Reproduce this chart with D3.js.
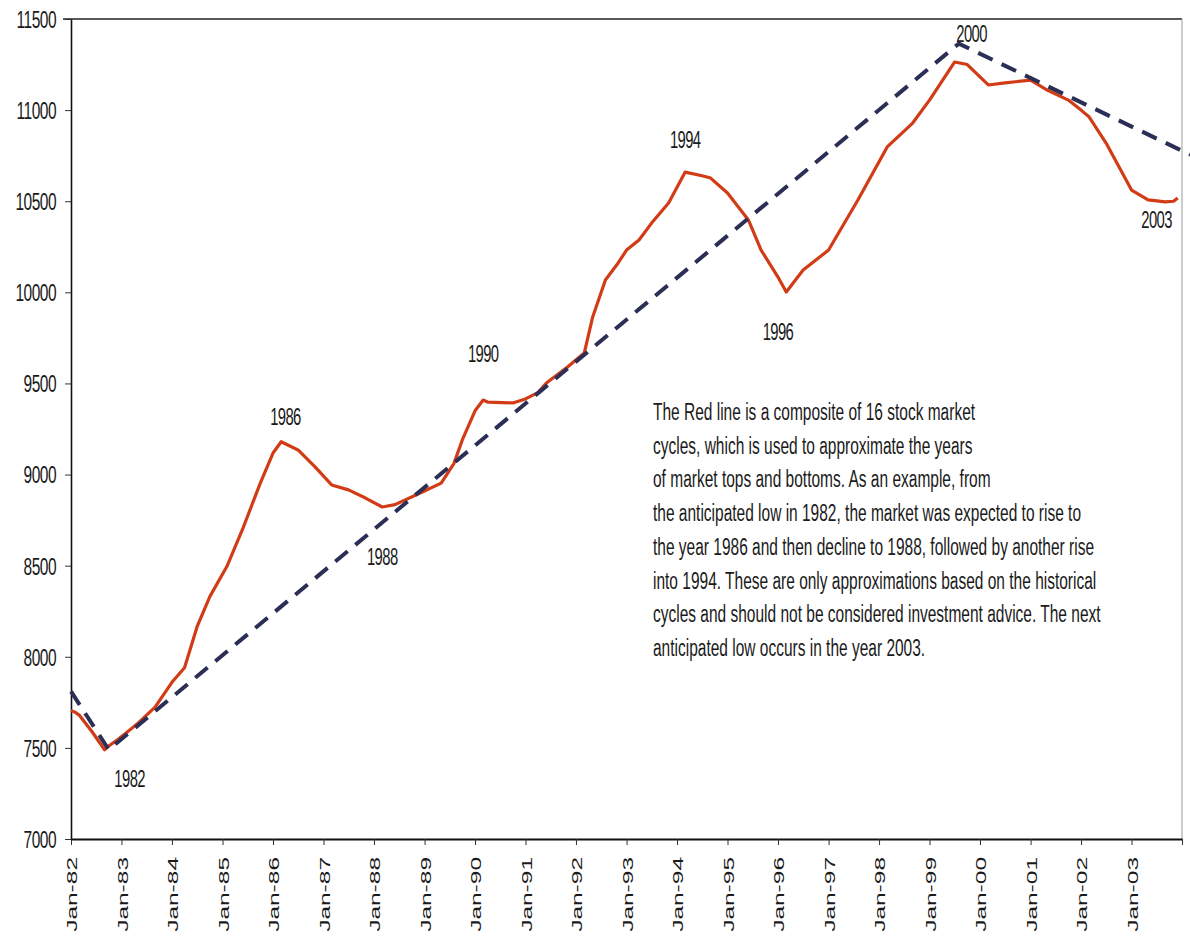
<!DOCTYPE html>
<html>
<head>
<meta charset="utf-8">
<script src="https://cdn.jsdelivr.net/npm/d3@7/dist/d3.min.js"></script>
<style>
  body { margin: 0; background: #fff; }
  svg text { font-family: "Liberation Sans", Arial, sans-serif; fill: #1a1a1a; }
</style>
</head>
<body>
<svg id="chart" width="1190" height="936"></svg>
<script>
// composite cycle line (red)
var redMonths = ["1982-01","1982-02","1982-03","1982-06","1982-09","1982-10","1982-12","1983-02","1983-05","1983-09",
  "1984-01","1984-04","1984-07","1984-10","1985-02","1985-06","1985-10","1986-01","1986-03","1986-07",
  "1986-11","1987-03","1987-07","1987-11","1988-03","1988-06","1988-12","1989-05","1989-08","1989-10",
  "1990-01","1990-03","1990-04","1990-10","1991-01","1991-04","1991-06","1991-11","1992-03","1992-05",
  "1992-08","1992-11","1993-01","1993-04","1993-07","1993-11","1994-03","1994-07","1994-09","1995-01",
  "1995-06","1995-09","1996-01","1996-03","1996-07","1997-01","1997-08","1998-03","1998-09","1999-01",
  "1999-07","1999-10","2000-03","2000-07","2001-01","2001-05","2001-10","2002-01","2002-03","2002-07",
  "2003-01","2003-05","2003-09","2003-11","2003-12"];
var redValues = [7705,7695,7680,7590,7490,7510,7543,7580,7636,7724,
  7860,7940,8165,8330,8495,8712,8953,9118,9180,9135,
  9042,8943,8916,8871,8822,8835,8899,8953,9060,9190,
  9350,9409,9398,9393,9415,9450,9502,9590,9667,9865,
  10068,10161,10232,10287,10380,10490,10660,10640,10627,10545,
  10397,10232,10084,10002,10122,10232,10507,10798,10929,11055,
  11264,11250,11138,11149,11165,11110,11055,11000,10962,10819,
  10561,10507,10496,10500,10518];

// dashed trend line
var trendMonths = ["1982-01","1982-10","1999-08","2004-03"];
var trendValues = [7810,7490,11365,10755];

// year labels on the curve
var yearLabels = ["1982","1986","1988","1990","1994","1996","2000","2003"];
var yearLabelMonths = ["1983-03","1986-04","1988-03","1990-03","1994-03","1996-01","1999-11","2003-07"];
var yearLabelValues = [7335,9321,8553,9667,10841,9788,11423,10402];

var yTicks = [7000,7500,8000,8500,9000,9500,10000,10500,11000,11500];

var note = [
  "The Red line is a composite of 16 stock market",
  "cycles, which is used to approximate the years",
  "of market tops and bottoms. As an example, from",
  "the anticipated low in 1982, the market was expected to rise to",
  "the year 1986 and then decline to 1988, followed by another rise",
  "into 1994. These are only approximations based on the historical",
  "cycles and should not be considered investment advice. The next",
  "anticipated low occurs in the year 2003."
];

var parse = d3.timeParse("%Y-%m");

var svg = d3.select("#chart"),
    margin = {top: 19, right: 8, bottom: 97, left: 71},
    width = +svg.attr("width") - margin.left - margin.right,
    height = +svg.attr("height") - margin.top - margin.bottom,
    g = svg.append("g").attr("transform", "translate(" + margin.left + "," + margin.top + ")");

var x = d3.scaleTime()
    .domain([parse("1982-01"), parse("2004-01")])
    .range([0, width]);

var y = d3.scaleLinear()
    .domain([7000, 11500])
    .range([height, 0]);

var redData = redMonths.map(function(m, i) { return {date: parse(m), value: redValues[i]}; });
var trendData = trendMonths.map(function(m, i) { return {date: parse(m), value: trendValues[i]}; });

var line = d3.line()
    .x(function(d) { return x(d.date); })
    .y(function(d) { return y(d.value); });

// frame: top line and thin right edge
g.append("line")
    .attr("x1", -8).attr("x2", width)
    .attr("y1", 0).attr("y2", 0)
    .attr("stroke", "#222").attr("stroke-width", 1.6);
g.append("line")
    .attr("x1", width).attr("x2", width)
    .attr("y1", 0).attr("y2", height)
    .attr("stroke", "#9a9a9a").attr("stroke-width", 1);

// x axis
var xAxis = g.append("g")
    .attr("transform", "translate(0," + height + ")")
    .call(d3.axisBottom(x)
      .ticks(d3.timeYear.every(1))
      .tickSize(6)
      .tickSizeOuter(0)
      .tickFormat(function(d) { return d.getFullYear() === 2004 ? "" : d3.timeFormat("Jan-%y")(d); }));
xAxis.select(".domain").attr("stroke", "#111").attr("stroke-width", 2);
xAxis.selectAll(".tick line").attr("stroke", "#333");
xAxis.selectAll(".tick text")
    .attr("x", 0).attr("y", 0).attr("dy", ".35em")
    .attr("transform", "translate(1,18) scale(1,1.75) rotate(-90)")
    .style("text-anchor", "end")
    .style("font-size", "14px");

// y axis
var yAxis = g.append("g")
    .call(d3.axisLeft(y)
      .tickValues(yTicks)
      .tickSize(6)
      .tickSizeOuter(0)
      .tickFormat(d3.format("d")));
yAxis.select(".domain").attr("stroke", "#111").attr("stroke-width", 1.6);
yAxis.selectAll(".tick line").attr("stroke", "#333");
yAxis.selectAll(".tick text")
    .attr("x", 0).attr("dy", ".35em")
    .attr("transform", "translate(-15,0) scale(1,1.55)")
    .style("text-anchor", "end")
    .style("font-size", "15.5px")
    .style("letter-spacing", "-0.5px");

// red composite line
g.append("path")
    .datum(redData)
    .attr("fill", "none")
    .attr("stroke", "#d13c17")
    .attr("stroke-width", 3.2)
    .attr("stroke-linejoin", "round")
    .attr("d", line);

// dashed trend
g.append("path")
    .datum(trendData)
    .attr("fill", "none")
    .attr("stroke", "#2b2e55")
    .attr("stroke-width", 4)
    .attr("stroke-dasharray", "16,10")
    .attr("d", line);

// year labels
g.selectAll(".year")
    .data(yearLabels)
  .enter().append("text")
    .attr("class", "year")
    .attr("dy", ".35em")
    .attr("transform", function(d, i) {
      return "translate(" + x(parse(yearLabelMonths[i])) + "," + y(yearLabelValues[i]) + ") scale(1,1.65)";
    })
    .style("text-anchor", "middle")
    .style("font-size", "14.8px")
    .style("letter-spacing", "-0.6px")
    .text(function(d) { return d; });

// explanatory note
var noteG = svg.append("g").attr("transform", "translate(653,420)");
noteG.selectAll("text")
    .data(note)
  .enter().append("text")
    .attr("transform", function(d, i) { return "translate(0," + (i * 33.7) + ") scale(1,1.5)"; })
    .style("font-size", "15.5px")
    .text(function(d) { return d; });
</script>
</body>
</html>
